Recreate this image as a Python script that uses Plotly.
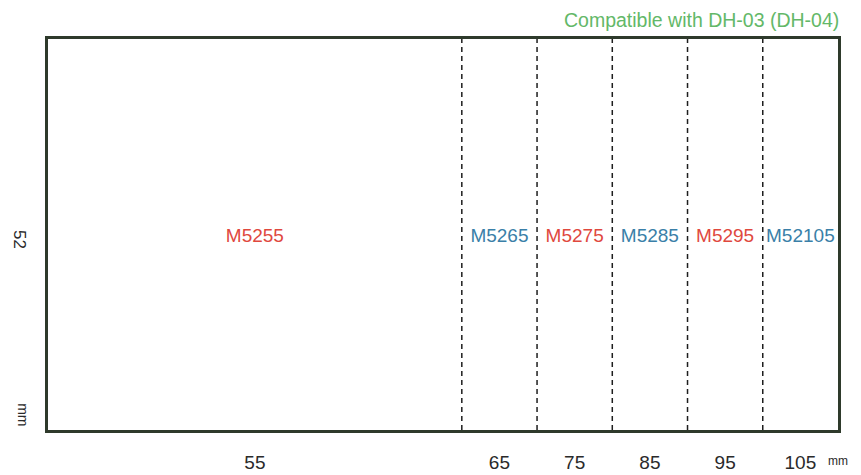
import plotly.graph_objects as go

# label sizes (mm)
label_height = 52
widths = [55, 65, 75, 85, 95, 105]
codes = ["M5255", "M5265", "M5275", "M5285", "M5295", "M52105"]
code_colors = ["#e0483e", "#3a7fa8", "#e0483e", "#3a7fa8", "#e0483e", "#3a7fa8"]
width_labels = ["55", "65", "75", "85", "95", "105"]

FONT = "Liberation Sans, Arial, sans-serif"
FRAME = "#2e3a2b"

# centre of each band between successive widths
starts = [0] + widths[:-1]
mids = [(a + b) / 2 for a, b in zip(starts, widths)]

fig = go.Figure()

# dashed dividers at each width except the outer edge
for w in widths[:-1]:
    fig.add_trace(go.Scatter(
        x=[w, w], y=[0, label_height], mode="lines",
        line=dict(color="#1e1e1e", width=1.5, dash="5px,4px"),
        hoverinfo="skip", showlegend=False,
    ))

# product codes (sit a touch below the vertical middle in the original)
fig.add_trace(go.Scatter(
    x=mids, y=[label_height / 2 - 0.4] * len(mids), mode="text",
    text=codes, textfont=dict(family=FONT, size=19, color=code_colors),
    hoverinfo="skip", showlegend=False,
))

# the page body has an 8px margin, so the figure is a little smaller than the window
fig.update_layout(
    width=853, height=467,
    margin=dict(l=40, r=23, t=31, b=45),
    paper_bgcolor="white", plot_bgcolor="white",
    font=dict(family=FONT, color="#2a2a2a"),
    xaxis=dict(
        range=[0, widths[-1]], showgrid=False, zeroline=False, automargin=False,
        showline=True, mirror=True, linecolor=FRAME, linewidth=3,
        tickmode="array", tickvals=mids, ticktext=width_labels,
        ticks="", ticklabelstandoff=13, tickfont=dict(size=19, color="#2a2a2a"),
    ),
    yaxis=dict(
        range=[0, label_height], showgrid=False, zeroline=False, automargin=False,
        showline=True, mirror=True, linecolor=FRAME, linewidth=3,
        tickmode="array", tickvals=[label_height / 2 - 1], ticktext=["52"],
        tickangle=90, ticks="", ticklabelstandoff=11,
        tickfont=dict(size=17, color="#2a2a2a"),
    ),
    annotations=[
        dict(text="Compatible with DH-03 (DH-04)", xref="paper", yref="paper",
             x=1.0, y=1.0, xanchor="right", yanchor="bottom", yshift=6, xshift=3,
             showarrow=False, font=dict(family=FONT, size=19.5, color="#63b868")),
        dict(text="mm", xref="paper", yref="paper", x=1.0, y=0,
             xanchor="right", yanchor="top", xshift=12, yshift=-22,
             showarrow=False, font=dict(family=FONT, size=12, color="#2a2a2a")),
        dict(text="mm", xref="paper", yref="y", x=0, y=2.1, textangle=90,
             xanchor="right", yanchor="middle", xshift=-15,
             showarrow=False, font=dict(family=FONT, size=14, color="#2a2a2a")),
    ],
)

fig.write_html("out.html")
